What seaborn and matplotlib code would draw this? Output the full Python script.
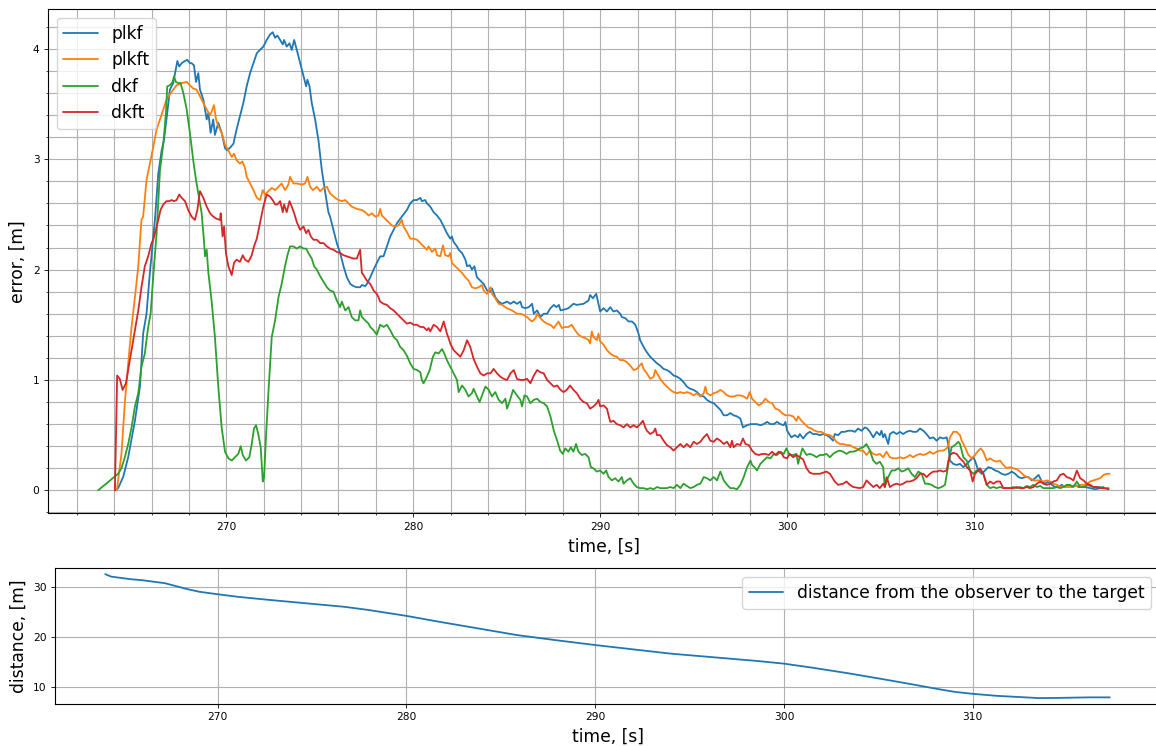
import numpy as np
import pandas as pd
import seaborn as sns
import matplotlib
matplotlib.use("Agg")
import matplotlib.pyplot as plt
from matplotlib.ticker import MultipleLocator

# ---------------- estimation error of each filter ----------------
plkf_t = [264.09, 264.21, 264.48, 264.75, 265.11, 265.38, 265.55, 265.73, 265.91, 266.18, 266.36, 266.54, 266.66, 266.84, 266.98, 267.16, 267.38, 267.48, 267.61, 267.79, 267.91, 268.05, 268.14, 268.27, 268.38, 268.50, 268.59, 268.77, 268.95, 269.04, 269.16, 269.30, 269.39, 269.57, 269.75, 269.93, 270.05, 270.23, 270.38, 270.55, 270.73, 270.91, 271.09, 271.27, 271.45, 271.63, 271.80, 271.98, 272.16, 272.34, 272.48, 272.61, 272.73, 272.88, 273.02, 273.09, 273.23, 273.38, 273.50, 273.63, 273.77, 273.95, 274.13, 274.27, 274.34, 274.45, 274.57, 274.75, 274.93, 275.11, 275.29, 275.46, 275.55, 275.73, 275.91, 276.09, 276.27, 276.45, 276.63, 276.80, 276.98, 277.16, 277.25, 277.43, 277.52, 277.70, 277.88, 278.05, 278.23, 278.41, 278.59, 278.77, 278.95, 279.13, 279.39, 279.66, 279.84, 280.02, 280.20, 280.38, 280.46, 280.64, 280.73, 280.91, 281.09, 281.27, 281.45, 281.63, 281.80, 281.98, 282.07, 282.16, 282.34, 282.43, 282.61, 282.79, 282.88, 283.02, 283.14, 283.27, 283.41, 283.59, 283.77, 283.95, 284.13, 284.21, 284.39, 284.57, 284.75, 285.02, 285.20, 285.38, 285.55, 285.73, 285.82, 286.00, 286.18, 286.36, 286.45, 286.63, 286.80, 286.98, 287.16, 287.34, 287.52, 287.66, 287.79, 287.88, 288.13, 288.30, 288.57, 288.75, 289.11, 289.38, 289.46, 289.61, 289.79, 289.91, 290.00, 290.18, 290.36, 290.54, 290.71, 290.89, 291.07, 291.16, 291.34, 291.52, 291.70, 291.88, 292.05, 292.14, 292.32, 292.50, 292.68, 292.86, 293.04, 293.21, 293.39, 293.57, 293.75, 293.93, 294.11, 294.29, 294.46, 294.64, 294.82, 295.00, 295.18, 295.36, 295.54, 295.71, 295.89, 296.07, 296.25, 296.43, 296.61, 296.79, 296.96, 297.14, 297.32, 297.50, 297.64, 297.86, 298.04, 298.21, 298.39, 298.57, 298.75, 298.93, 299.11, 299.29, 299.46, 299.64, 299.82, 299.91, 300.00, 300.23, 300.41, 300.59, 300.68, 300.86, 301.04, 301.21, 301.39, 301.57, 301.75, 301.93, 302.11, 302.29, 302.46, 302.55, 302.73, 302.91, 303.09, 303.27, 303.45, 303.63, 303.80, 303.98, 304.16, 304.29, 304.43, 304.61, 304.79, 304.96, 305.05, 305.14, 305.23, 305.41, 305.50, 305.68, 305.86, 306.04, 306.21, 306.39, 306.57, 306.75, 306.93, 307.11, 307.29, 307.46, 307.64, 307.82, 308.00, 308.18, 308.36, 308.54, 308.63, 308.71, 308.89, 309.07, 309.25, 309.43, 309.61, 309.79, 309.96, 310.05, 310.23, 310.41, 310.59, 310.77, 310.95, 311.13, 311.30, 311.48, 311.66, 311.84, 312.02, 312.20, 312.38, 312.55, 312.73, 312.91, 313.09, 313.27, 313.45, 313.63, 313.80, 313.98, 314.16, 314.34, 314.52, 314.70, 314.88, 315.05, 315.23, 315.41, 315.59, 315.77, 315.95, 316.21, 316.48, 316.75, 316.93]
plkf_e = [0.00, 0.02, 0.12, 0.30, 0.63, 0.94, 1.42, 1.60, 1.97, 2.45, 2.87, 3.08, 3.17, 3.42, 3.63, 3.69, 3.89, 3.84, 3.87, 3.89, 3.90, 3.87, 3.87, 3.85, 3.70, 3.78, 3.63, 3.54, 3.36, 3.42, 3.24, 3.36, 3.22, 3.33, 3.24, 3.10, 3.08, 3.11, 3.14, 3.27, 3.39, 3.51, 3.66, 3.78, 3.87, 3.96, 3.99, 4.02, 4.08, 4.13, 4.15, 4.10, 4.12, 4.08, 4.04, 4.08, 4.02, 4.05, 3.99, 4.08, 3.99, 3.87, 3.75, 3.66, 3.72, 3.66, 3.51, 3.36, 3.17, 2.90, 2.70, 2.52, 2.48, 2.36, 2.24, 2.15, 2.03, 1.93, 1.87, 1.85, 1.84, 1.84, 1.86, 1.85, 1.87, 1.93, 2.00, 2.06, 2.12, 2.12, 2.21, 2.30, 2.36, 2.42, 2.48, 2.54, 2.60, 2.63, 2.63, 2.65, 2.62, 2.63, 2.60, 2.57, 2.52, 2.49, 2.45, 2.39, 2.33, 2.28, 2.30, 2.25, 2.21, 2.18, 2.15, 2.09, 2.03, 2.04, 2.00, 2.03, 1.93, 1.90, 1.87, 1.81, 1.80, 1.83, 1.75, 1.71, 1.69, 1.71, 1.69, 1.71, 1.69, 1.71, 1.66, 1.65, 1.66, 1.69, 1.60, 1.63, 1.57, 1.60, 1.60, 1.65, 1.68, 1.66, 1.68, 1.63, 1.64, 1.65, 1.69, 1.68, 1.69, 1.72, 1.77, 1.74, 1.78, 1.69, 1.62, 1.65, 1.62, 1.66, 1.62, 1.63, 1.60, 1.57, 1.56, 1.53, 1.53, 1.50, 1.42, 1.36, 1.30, 1.25, 1.21, 1.18, 1.15, 1.13, 1.10, 1.09, 1.07, 1.04, 1.03, 1.01, 0.98, 0.94, 0.92, 0.91, 0.89, 0.86, 0.85, 0.82, 0.80, 0.79, 0.76, 0.73, 0.68, 0.68, 0.70, 0.68, 0.67, 0.65, 0.57, 0.59, 0.60, 0.60, 0.60, 0.59, 0.60, 0.62, 0.60, 0.60, 0.62, 0.60, 0.59, 0.62, 0.54, 0.48, 0.50, 0.48, 0.51, 0.47, 0.51, 0.53, 0.51, 0.51, 0.50, 0.51, 0.50, 0.48, 0.45, 0.51, 0.50, 0.53, 0.53, 0.54, 0.54, 0.53, 0.56, 0.54, 0.57, 0.56, 0.53, 0.48, 0.53, 0.50, 0.54, 0.48, 0.51, 0.42, 0.51, 0.53, 0.51, 0.53, 0.51, 0.53, 0.54, 0.53, 0.53, 0.56, 0.54, 0.51, 0.47, 0.48, 0.45, 0.48, 0.47, 0.48, 0.41, 0.27, 0.24, 0.23, 0.24, 0.21, 0.24, 0.27, 0.30, 0.27, 0.18, 0.15, 0.18, 0.21, 0.20, 0.18, 0.17, 0.15, 0.14, 0.15, 0.17, 0.15, 0.12, 0.11, 0.12, 0.12, 0.09, 0.11, 0.14, 0.08, 0.06, 0.08, 0.05, 0.03, 0.03, 0.05, 0.03, 0.05, 0.03, 0.05, 0.03, 0.03, 0.03, 0.02, 0.01, 0.02, 0.03]

plkft_t = [264.14, 264.39, 264.57, 264.75, 264.93, 265.11, 265.29, 265.46, 265.55, 265.73, 265.91, 266.09, 266.27, 266.45, 266.63, 266.80, 267.07, 267.34, 267.61, 267.88, 268.05, 268.23, 268.41, 268.59, 268.77, 268.95, 269.13, 269.21, 269.34, 269.45, 269.57, 269.75, 269.93, 270.11, 270.29, 270.41, 270.55, 270.73, 270.86, 271.00, 271.09, 271.27, 271.45, 271.63, 271.80, 271.95, 272.07, 272.25, 272.43, 272.61, 272.79, 272.96, 273.14, 273.32, 273.41, 273.59, 273.77, 274.04, 274.21, 274.34, 274.48, 274.63, 274.84, 275.02, 275.20, 275.38, 275.55, 275.82, 276.00, 276.18, 276.36, 276.54, 276.71, 276.98, 277.25, 277.43, 277.61, 277.79, 277.96, 278.14, 278.23, 278.32, 278.50, 278.68, 278.86, 279.04, 279.21, 279.39, 279.48, 279.66, 279.84, 280.02, 280.20, 280.38, 280.55, 280.73, 280.82, 281.00, 281.18, 281.27, 281.45, 281.59, 281.71, 281.89, 281.98, 282.07, 282.25, 282.43, 282.61, 282.79, 282.96, 283.14, 283.32, 283.50, 283.68, 283.77, 283.95, 284.13, 284.21, 284.39, 284.57, 284.75, 285.02, 285.29, 285.55, 285.73, 285.91, 286.09, 286.27, 286.36, 286.54, 286.63, 286.80, 286.98, 287.16, 287.34, 287.52, 287.77, 287.95, 288.13, 288.30, 288.48, 288.66, 288.84, 289.02, 289.20, 289.38, 289.46, 289.55, 289.64, 289.82, 289.91, 290.00, 290.18, 290.36, 290.54, 290.71, 290.89, 291.07, 291.25, 291.43, 291.61, 291.79, 291.96, 292.11, 292.23, 292.32, 292.50, 292.68, 292.86, 292.95, 293.04, 293.21, 293.39, 293.57, 293.75, 293.93, 294.11, 294.29, 294.46, 294.64, 294.82, 295.00, 295.18, 295.36, 295.54, 295.63, 295.71, 295.89, 296.07, 296.25, 296.43, 296.61, 296.79, 296.96, 297.14, 297.32, 297.50, 297.68, 297.86, 298.00, 298.13, 298.30, 298.48, 298.66, 298.84, 299.02, 299.20, 299.38, 299.55, 299.73, 299.91, 300.14, 300.32, 300.50, 300.59, 300.77, 300.95, 301.13, 301.30, 301.48, 301.66, 301.84, 302.02, 302.29, 302.46, 302.64, 302.82, 303.00, 303.18, 303.36, 303.54, 303.71, 303.89, 304.07, 304.25, 304.43, 304.61, 304.79, 304.96, 305.14, 305.32, 305.50, 305.68, 305.86, 306.04, 306.21, 306.39, 306.57, 306.75, 306.93, 307.11, 307.29, 307.46, 307.64, 307.82, 308.00, 308.18, 308.36, 308.54, 308.63, 308.71, 308.89, 309.07, 309.25, 309.34, 309.52, 309.70, 309.88, 310.05, 310.23, 310.36, 310.50, 310.68, 310.86, 311.04, 311.21, 311.39, 311.57, 311.75, 311.93, 312.11, 312.29, 312.46, 312.64, 312.82, 313.00, 313.18, 313.36, 313.54, 313.71, 313.89, 314.07, 314.25, 314.43, 314.61, 314.79, 314.96, 315.14, 315.32, 315.50, 315.68, 315.86, 316.04, 316.21, 316.39, 316.57, 316.75, 316.93, 317.11, 317.25]
plkft_e = [0.00, 0.33, 0.79, 1.15, 1.48, 1.75, 2.03, 2.45, 2.48, 2.81, 2.96, 3.11, 3.27, 3.36, 3.45, 3.54, 3.61, 3.67, 3.69, 3.70, 3.67, 3.64, 3.63, 3.57, 3.51, 3.45, 3.40, 3.43, 3.49, 3.36, 3.30, 3.24, 3.13, 3.08, 3.02, 3.05, 2.99, 2.96, 2.98, 2.92, 2.84, 2.78, 2.72, 2.65, 2.63, 2.72, 2.68, 2.71, 2.74, 2.72, 2.75, 2.78, 2.72, 2.77, 2.84, 2.78, 2.78, 2.77, 2.78, 2.84, 2.75, 2.72, 2.75, 2.71, 2.74, 2.75, 2.69, 2.65, 2.63, 2.62, 2.63, 2.60, 2.57, 2.55, 2.54, 2.52, 2.49, 2.51, 2.48, 2.49, 2.55, 2.49, 2.46, 2.43, 2.40, 2.39, 2.40, 2.45, 2.39, 2.34, 2.28, 2.28, 2.27, 2.24, 2.21, 2.18, 2.21, 2.16, 2.19, 2.13, 2.12, 2.22, 2.13, 2.12, 2.15, 2.06, 2.03, 2.00, 1.97, 1.93, 1.90, 1.84, 1.83, 1.84, 1.86, 1.81, 1.78, 1.84, 1.78, 1.74, 1.69, 1.68, 1.65, 1.63, 1.60, 1.60, 1.59, 1.57, 1.54, 1.53, 1.56, 1.60, 1.56, 1.53, 1.51, 1.50, 1.47, 1.53, 1.47, 1.48, 1.48, 1.50, 1.45, 1.41, 1.39, 1.38, 1.36, 1.33, 1.44, 1.39, 1.36, 1.42, 1.35, 1.32, 1.27, 1.24, 1.22, 1.21, 1.18, 1.18, 1.16, 1.13, 1.09, 1.10, 1.13, 1.15, 1.10, 1.06, 1.01, 1.03, 1.09, 1.06, 1.01, 0.97, 0.94, 0.91, 0.89, 0.88, 0.89, 0.88, 0.89, 0.88, 0.86, 0.88, 0.85, 0.88, 0.94, 0.88, 0.86, 0.88, 0.89, 0.91, 0.89, 0.86, 0.85, 0.85, 0.86, 0.86, 0.85, 0.83, 0.89, 0.83, 0.80, 0.77, 0.79, 0.83, 0.80, 0.79, 0.74, 0.73, 0.70, 0.68, 0.68, 0.67, 0.63, 0.67, 0.63, 0.60, 0.57, 0.56, 0.54, 0.53, 0.53, 0.51, 0.50, 0.48, 0.44, 0.42, 0.42, 0.41, 0.41, 0.39, 0.38, 0.36, 0.36, 0.32, 0.36, 0.33, 0.32, 0.33, 0.30, 0.35, 0.30, 0.29, 0.29, 0.30, 0.29, 0.30, 0.32, 0.30, 0.32, 0.33, 0.32, 0.33, 0.35, 0.33, 0.35, 0.36, 0.36, 0.38, 0.41, 0.48, 0.53, 0.53, 0.50, 0.45, 0.39, 0.32, 0.29, 0.32, 0.36, 0.38, 0.35, 0.27, 0.29, 0.27, 0.26, 0.27, 0.23, 0.20, 0.21, 0.20, 0.19, 0.17, 0.14, 0.12, 0.11, 0.09, 0.09, 0.09, 0.08, 0.09, 0.08, 0.06, 0.05, 0.03, 0.04, 0.03, 0.03, 0.04, 0.04, 0.05, 0.05, 0.06, 0.08, 0.09, 0.10, 0.11, 0.14, 0.15, 0.15]

dkf_t = [263.14, 264.21, 264.39, 264.57, 264.75, 264.93, 265.11, 265.29, 265.46, 265.64, 265.82, 265.95, 266.09, 266.27, 266.45, 266.63, 266.77, 266.84, 266.98, 267.13, 267.20, 267.30, 267.43, 267.55, 267.70, 267.88, 268.05, 268.23, 268.38, 268.50, 268.68, 268.80, 268.86, 268.95, 269.04, 269.21, 269.39, 269.57, 269.75, 269.93, 270.11, 270.29, 270.46, 270.64, 270.77, 270.88, 271.05, 271.23, 271.36, 271.48, 271.59, 271.71, 271.84, 271.95, 272.02, 272.13, 272.25, 272.43, 272.61, 272.79, 272.96, 273.14, 273.27, 273.41, 273.59, 273.77, 273.95, 274.13, 274.27, 274.39, 274.57, 274.70, 274.84, 275.02, 275.20, 275.38, 275.55, 275.73, 275.91, 276.09, 276.18, 276.36, 276.54, 276.71, 276.89, 277.07, 277.16, 277.25, 277.43, 277.61, 277.70, 277.88, 278.05, 278.23, 278.41, 278.59, 278.77, 278.95, 279.13, 279.30, 279.48, 279.66, 279.84, 280.02, 280.20, 280.38, 280.46, 280.55, 280.73, 280.88, 281.05, 281.18, 281.36, 281.54, 281.66, 281.80, 281.98, 282.16, 282.34, 282.43, 282.61, 282.79, 282.96, 283.14, 283.23, 283.41, 283.55, 283.68, 283.86, 284.04, 284.21, 284.39, 284.57, 284.75, 284.93, 285.02, 285.20, 285.34, 285.55, 285.73, 285.82, 285.95, 286.09, 286.27, 286.45, 286.63, 286.80, 286.98, 287.16, 287.34, 287.52, 287.70, 287.86, 288.00, 288.13, 288.30, 288.43, 288.57, 288.71, 288.84, 289.02, 289.20, 289.38, 289.50, 289.64, 289.82, 290.00, 290.18, 290.32, 290.45, 290.63, 290.80, 290.98, 291.16, 291.25, 291.43, 291.61, 291.79, 291.96, 292.14, 292.32, 292.50, 292.68, 292.86, 293.04, 293.21, 293.39, 293.57, 293.75, 293.93, 294.11, 294.29, 294.46, 294.64, 294.82, 295.00, 295.18, 295.36, 295.54, 295.71, 295.89, 296.07, 296.25, 296.43, 296.61, 296.79, 296.96, 297.14, 297.32, 297.50, 297.68, 297.86, 298.04, 298.13, 298.25, 298.39, 298.57, 298.75, 298.93, 299.11, 299.29, 299.46, 299.64, 299.82, 299.96, 300.14, 300.32, 300.50, 300.59, 300.68, 300.82, 301.04, 301.21, 301.39, 301.57, 301.75, 301.93, 302.11, 302.29, 302.46, 302.64, 302.82, 303.00, 303.18, 303.36, 303.54, 303.71, 303.89, 304.07, 304.25, 304.43, 304.61, 304.79, 304.96, 305.14, 305.23, 305.32, 305.41, 305.59, 305.77, 305.95, 306.13, 306.30, 306.48, 306.66, 306.84, 307.02, 307.20, 307.38, 307.55, 307.73, 307.91, 308.09, 308.27, 308.45, 308.63, 308.80, 308.98, 309.16, 309.25, 309.43, 309.61, 309.79, 309.96, 310.14, 310.32, 310.50, 310.68, 310.86, 311.04, 311.21, 311.39, 311.57, 311.75, 311.93, 312.11, 312.29, 312.46, 312.64, 312.82, 313.00, 313.18, 313.36, 313.54, 313.71, 313.89, 314.07, 314.25, 314.43, 314.61, 314.79, 314.96, 315.14, 315.32, 315.50, 315.68, 315.86, 316.04, 316.21, 316.39, 316.57, 316.75, 316.93, 317.20]
dkf_e = [0.00, 0.15, 0.20, 0.30, 0.42, 0.57, 0.76, 0.88, 1.12, 1.24, 1.48, 1.60, 1.94, 2.33, 2.90, 3.14, 3.42, 3.66, 3.67, 3.70, 3.75, 3.70, 3.69, 3.69, 3.60, 3.45, 3.24, 2.99, 2.81, 2.69, 2.51, 2.27, 2.12, 2.18, 1.97, 1.72, 1.39, 0.94, 0.57, 0.35, 0.29, 0.27, 0.30, 0.33, 0.40, 0.32, 0.27, 0.30, 0.42, 0.56, 0.59, 0.51, 0.39, 0.08, 0.12, 0.51, 0.88, 1.39, 1.54, 1.75, 1.87, 2.03, 2.13, 2.21, 2.21, 2.19, 2.21, 2.19, 2.19, 2.15, 2.10, 2.03, 2.00, 1.94, 1.89, 1.84, 1.81, 1.80, 1.72, 1.66, 1.71, 1.63, 1.66, 1.57, 1.54, 1.54, 1.63, 1.57, 1.54, 1.51, 1.48, 1.45, 1.41, 1.50, 1.48, 1.50, 1.45, 1.39, 1.36, 1.30, 1.27, 1.22, 1.15, 1.10, 1.09, 1.07, 1.00, 0.97, 1.03, 1.09, 1.21, 1.25, 1.24, 1.28, 1.24, 1.18, 1.12, 1.06, 1.00, 0.89, 0.95, 0.91, 0.85, 0.88, 0.92, 0.85, 0.80, 0.86, 0.94, 0.91, 0.85, 0.89, 0.82, 0.79, 0.83, 0.74, 0.83, 0.91, 0.86, 0.82, 0.76, 0.86, 0.85, 0.79, 0.82, 0.83, 0.80, 0.79, 0.76, 0.67, 0.54, 0.45, 0.36, 0.33, 0.38, 0.35, 0.39, 0.35, 0.42, 0.35, 0.32, 0.33, 0.30, 0.21, 0.20, 0.17, 0.18, 0.15, 0.18, 0.12, 0.09, 0.11, 0.08, 0.12, 0.06, 0.09, 0.11, 0.06, 0.03, 0.02, 0.02, 0.01, 0.02, 0.01, 0.03, 0.02, 0.02, 0.02, 0.03, 0.02, 0.05, 0.02, 0.06, 0.04, 0.02, 0.03, 0.05, 0.06, 0.12, 0.11, 0.09, 0.12, 0.09, 0.17, 0.09, 0.05, 0.02, 0.02, 0.01, 0.05, 0.12, 0.21, 0.27, 0.23, 0.21, 0.18, 0.24, 0.27, 0.30, 0.29, 0.33, 0.32, 0.35, 0.33, 0.38, 0.32, 0.32, 0.33, 0.24, 0.30, 0.38, 0.32, 0.33, 0.32, 0.30, 0.32, 0.32, 0.33, 0.30, 0.33, 0.35, 0.36, 0.35, 0.33, 0.35, 0.35, 0.36, 0.38, 0.39, 0.42, 0.36, 0.27, 0.24, 0.26, 0.21, 0.03, 0.08, 0.12, 0.18, 0.18, 0.20, 0.17, 0.18, 0.20, 0.15, 0.12, 0.17, 0.15, 0.06, 0.06, 0.05, 0.03, 0.02, 0.03, 0.05, 0.24, 0.39, 0.41, 0.44, 0.42, 0.30, 0.27, 0.18, 0.15, 0.18, 0.19, 0.15, 0.05, 0.02, 0.03, 0.02, 0.03, 0.02, 0.02, 0.02, 0.03, 0.02, 0.03, 0.02, 0.04, 0.03, 0.05, 0.03, 0.04, 0.02, 0.02, 0.02, 0.02, 0.03, 0.02, 0.03, 0.05, 0.05, 0.03, 0.08, 0.03, 0.03, 0.05, 0.04, 0.03, 0.03, 0.03, 0.02, 0.02]

dkft_t = [264.04, 264.16, 264.30, 264.45, 264.63, 264.75, 264.93, 265.11, 265.29, 265.46, 265.64, 265.82, 266.00, 266.09, 266.23, 266.36, 266.48, 266.63, 266.80, 266.95, 267.07, 267.20, 267.34, 267.48, 267.61, 267.79, 267.96, 268.14, 268.32, 268.45, 268.59, 268.77, 268.95, 269.13, 269.30, 269.48, 269.66, 269.70, 269.80, 269.88, 269.98, 270.11, 270.29, 270.41, 270.55, 270.73, 270.88, 271.00, 271.18, 271.36, 271.48, 271.63, 271.80, 271.98, 272.16, 272.34, 272.48, 272.61, 272.73, 272.88, 273.02, 273.09, 273.23, 273.38, 273.50, 273.63, 273.77, 273.95, 274.13, 274.27, 274.39, 274.52, 274.66, 274.84, 275.02, 275.20, 275.38, 275.55, 275.73, 275.91, 276.09, 276.27, 276.45, 276.63, 276.80, 276.98, 277.16, 277.21, 277.25, 277.34, 277.52, 277.70, 277.88, 278.05, 278.14, 278.23, 278.41, 278.59, 278.77, 278.95, 279.13, 279.30, 279.48, 279.66, 279.84, 280.02, 280.20, 280.38, 280.55, 280.73, 280.82, 280.91, 281.09, 281.27, 281.45, 281.63, 281.80, 281.89, 281.98, 282.16, 282.34, 282.52, 282.70, 282.88, 283.05, 283.23, 283.41, 283.59, 283.77, 283.95, 284.13, 284.30, 284.48, 284.66, 284.84, 285.02, 285.20, 285.38, 285.55, 285.73, 285.91, 286.09, 286.27, 286.45, 286.63, 286.80, 286.98, 287.16, 287.34, 287.52, 287.70, 287.88, 288.04, 288.21, 288.39, 288.57, 288.75, 288.93, 289.11, 289.29, 289.46, 289.64, 289.82, 289.91, 290.00, 290.18, 290.36, 290.54, 290.71, 290.89, 291.07, 291.25, 291.43, 291.61, 291.79, 291.96, 292.14, 292.29, 292.41, 292.50, 292.68, 292.86, 292.95, 293.04, 293.21, 293.39, 293.57, 293.75, 293.93, 294.11, 294.29, 294.46, 294.64, 294.82, 295.00, 295.18, 295.36, 295.54, 295.71, 295.89, 296.07, 296.25, 296.43, 296.61, 296.79, 296.96, 297.05, 297.14, 297.32, 297.50, 297.64, 297.77, 297.95, 298.13, 298.30, 298.48, 298.66, 298.84, 299.02, 299.20, 299.38, 299.55, 299.73, 299.82, 300.00, 300.14, 300.32, 300.50, 300.68, 300.86, 301.04, 301.21, 301.39, 301.75, 302.11, 302.29, 302.55, 302.73, 303.00, 303.18, 303.36, 303.54, 303.89, 304.07, 304.25, 304.43, 304.61, 304.79, 304.96, 305.14, 305.23, 305.32, 305.50, 305.68, 305.86, 306.04, 306.21, 306.39, 306.57, 306.75, 306.93, 307.11, 307.29, 307.46, 307.64, 307.82, 308.00, 308.18, 308.36, 308.54, 308.63, 308.71, 308.89, 309.07, 309.25, 309.43, 309.61, 309.79, 309.93, 310.05, 310.23, 310.32, 310.50, 310.68, 310.86, 311.04, 311.21, 311.39, 311.57, 311.75, 311.93, 312.11, 312.29, 312.46, 312.64, 312.82, 313.00, 313.18, 313.36, 313.54, 313.71, 313.89, 314.07, 314.25, 314.43, 314.61, 314.79, 314.96, 315.14, 315.32, 315.50, 315.68, 315.86, 316.04, 316.21, 316.39, 316.57, 316.75, 316.93, 317.20]
dkft_e = [0.00, 1.04, 1.01, 0.91, 0.97, 1.09, 1.27, 1.45, 1.63, 1.84, 2.03, 2.12, 2.24, 2.27, 2.36, 2.45, 2.54, 2.59, 2.62, 2.62, 2.63, 2.62, 2.63, 2.68, 2.65, 2.62, 2.54, 2.48, 2.45, 2.54, 2.71, 2.65, 2.57, 2.51, 2.48, 2.46, 2.45, 2.51, 2.30, 2.39, 2.15, 2.03, 1.95, 2.06, 2.09, 2.07, 2.13, 2.09, 2.07, 2.13, 2.21, 2.28, 2.42, 2.57, 2.68, 2.66, 2.63, 2.59, 2.59, 2.62, 2.52, 2.59, 2.52, 2.62, 2.57, 2.51, 2.43, 2.36, 2.39, 2.33, 2.36, 2.30, 2.27, 2.27, 2.24, 2.24, 2.21, 2.19, 2.18, 2.16, 2.15, 2.13, 2.12, 2.11, 2.10, 2.10, 2.18, 2.07, 1.97, 1.95, 1.90, 1.87, 1.81, 1.78, 1.75, 1.71, 1.69, 1.68, 1.65, 1.63, 1.60, 1.57, 1.54, 1.51, 1.52, 1.50, 1.50, 1.48, 1.48, 1.45, 1.47, 1.44, 1.50, 1.48, 1.44, 1.53, 1.42, 1.38, 1.33, 1.27, 1.24, 1.21, 1.27, 1.36, 1.30, 1.19, 1.12, 1.06, 1.04, 1.06, 1.06, 1.10, 1.06, 1.03, 1.01, 1.00, 1.06, 1.09, 1.01, 1.00, 1.00, 1.01, 0.97, 1.04, 1.09, 1.07, 1.06, 1.00, 0.97, 0.94, 0.95, 0.91, 0.89, 0.91, 0.95, 0.91, 0.88, 0.83, 0.80, 0.79, 0.74, 0.76, 0.79, 0.82, 0.76, 0.77, 0.74, 0.62, 0.63, 0.60, 0.59, 0.57, 0.60, 0.57, 0.59, 0.57, 0.60, 0.63, 0.57, 0.54, 0.51, 0.53, 0.56, 0.50, 0.50, 0.45, 0.41, 0.39, 0.36, 0.39, 0.42, 0.39, 0.42, 0.39, 0.44, 0.42, 0.44, 0.48, 0.51, 0.45, 0.44, 0.47, 0.45, 0.42, 0.44, 0.39, 0.45, 0.39, 0.42, 0.41, 0.47, 0.42, 0.41, 0.36, 0.33, 0.32, 0.33, 0.33, 0.32, 0.35, 0.32, 0.35, 0.33, 0.30, 0.29, 0.33, 0.30, 0.32, 0.30, 0.28, 0.20, 0.16, 0.15, 0.15, 0.17, 0.15, 0.08, 0.05, 0.06, 0.08, 0.05, 0.03, 0.02, 0.03, 0.09, 0.06, 0.03, 0.05, 0.02, 0.06, 0.03, 0.12, 0.03, 0.05, 0.06, 0.05, 0.06, 0.08, 0.08, 0.09, 0.11, 0.15, 0.15, 0.12, 0.15, 0.17, 0.17, 0.18, 0.17, 0.18, 0.27, 0.32, 0.34, 0.33, 0.29, 0.26, 0.21, 0.18, 0.08, 0.15, 0.18, 0.20, 0.15, 0.05, 0.08, 0.06, 0.08, 0.08, 0.02, 0.02, 0.02, 0.02, 0.03, 0.02, 0.02, 0.03, 0.02, 0.03, 0.06, 0.08, 0.06, 0.05, 0.06, 0.08, 0.09, 0.14, 0.15, 0.12, 0.11, 0.09, 0.18, 0.11, 0.09, 0.06, 0.05, 0.03, 0.03, 0.02, 0.02, 0.01]

# ---------------- range between observer and target ----------------
dist_t = [264.05, 264.37, 264.98, 265.38, 265.99, 266.60, 267.21, 267.81, 268.42, 269.03, 270.00, 271.05, 272.67, 274.70, 276.72, 277.94, 280.00, 281.78, 283.81, 285.83, 287.85, 290.00, 292.11, 293.98, 295.86, 297.74, 298.68, 300.00, 301.50, 303.38, 305.26, 306.77, 308.08, 309.02, 310.00, 311.28, 312.78, 313.53, 314.66, 316.17, 317.25]
dist_m = [32.5, 32.0, 31.7, 31.5, 31.3, 31.0, 30.7, 30.1, 29.5, 29.0, 28.5, 28.0, 27.4, 26.7, 26.0, 25.4, 24.2, 23.0, 21.7, 20.4, 19.4, 18.4, 17.5, 16.7, 16.1, 15.5, 15.2, 14.7, 13.9, 12.8, 11.6, 10.6, 9.7, 9.1, 8.7, 8.3, 8.0, 7.85, 7.9, 8.0, 8.0]

series = [
    ("plkf", plkf_t, plkf_e, "#1f77b4"),
    ("plkft", plkft_t, plkft_e, "#ff7f0e"),
    ("dkf", dkf_t, dkf_e, "#2ca02c"),
    ("dkft", dkft_t, dkft_e, "#d62728"),
]

sns.set_theme(style="ticks")
plt.rcParams["font.family"] = ["DejaVu Sans"]
plt.rcParams["axes.edgecolor"] = "black"
plt.rcParams["axes.linewidth"] = 0.8
plt.rcParams["xtick.color"] = "black"
plt.rcParams["ytick.color"] = "black"
plt.rcParams["text.color"] = "black"
plt.rcParams["axes.labelcolor"] = "black"

LABEL_FS = 12.3
TICK_FS = 7.7
LW = 1.3

fig = plt.figure(figsize=(11.56, 7.46), dpi=100)
ax1 = fig.add_axes([48 / 1156, 1 - 513.3 / 746, (1160 - 48) / 1156, (513.3 - 9.3) / 746])
ax2 = fig.add_axes([55 / 1156, 1 - 704 / 746, (1160 - 55) / 1156, (704 - 568.3) / 746])

for name, t, e, col in series:
    df = pd.DataFrame({"time": t, "err": e})
    sns.lineplot(data=df, x="time", y="err", ax=ax1, color=col, label=name,
                 linewidth=LW, estimator=None, sort=False)

ax1.set_xlim(260.46, 319.95)
ax1.set_ylim(-0.208, 4.358)
ax1.xaxis.set_major_locator(MultipleLocator(10))
ax1.xaxis.set_minor_locator(MultipleLocator(2))
ax1.yaxis.set_major_locator(MultipleLocator(1))
ax1.yaxis.set_minor_locator(MultipleLocator(0.2))
ax1.grid(which="both", color="#b0b0b0", linewidth=0.8)
ax1.set_axisbelow(True)
ax1.tick_params(which="major", labelsize=TICK_FS, length=2.6, width=0.6)
ax1.tick_params(which="minor", length=1.5, width=0.5)
ax1.set_xlabel("time, [s]", fontsize=LABEL_FS)
ax1.set_ylabel("error, [m]", fontsize=LABEL_FS)
ax1.legend(loc="upper left", fontsize=LABEL_FS, framealpha=0.8)

ddf = pd.DataFrame({"time": dist_t, "dist": dist_m})
sns.lineplot(data=ddf, x="time", y="dist", ax=ax2, color="#1f77b4",
             label="distance from the observer to the target",
             linewidth=LW, estimator=None, sort=False)
ax2.set_xlim(261.39, 319.91)
ax2.set_ylim(6.68, 33.66)
ax2.xaxis.set_major_locator(MultipleLocator(10))
ax2.yaxis.set_major_locator(MultipleLocator(10))
ax2.grid(which="major", color="#b0b0b0", linewidth=0.8)
ax2.set_axisbelow(True)
ax2.tick_params(which="major", labelsize=TICK_FS, length=2.6, width=0.6)
ax2.set_xlabel("time, [s]", fontsize=LABEL_FS)
ax2.set_ylabel("distance, [m]", fontsize=LABEL_FS)
ax2.legend(loc="upper right", fontsize=LABEL_FS, framealpha=0.8)

fig.savefig("out.png", dpi=100)
